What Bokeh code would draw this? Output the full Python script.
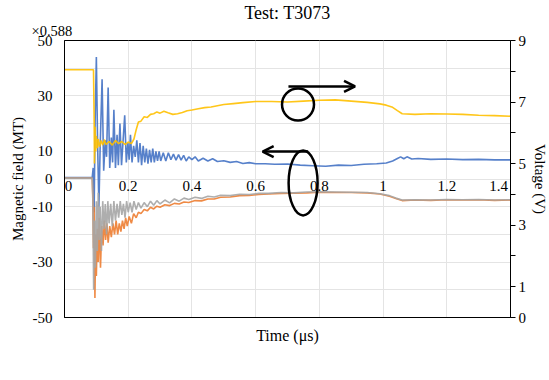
from bokeh.plotting import figure
from bokeh.models import (Range1d, LinearAxis, FixedTicker, Legend, LegendItem, Title,
                          LabelSet, Arrow, OpenHead, ColumnDataSource)
from bokeh.embed import file_html
from bokeh.resources import INLINE

FONT = "Liberation Serif"

# ---------------- data ----------------
ch1_t = [0, 0.087, 0.090, 0.093, 0.096, 0.100, 0.104, 0.108, 0.112, 0.118, 0.123, 0.128,
         0.132, 0.137, 0.142, 0.147, 0.151, 0.155, 0.160, 0.165, 0.169, 0.174, 0.179,
         0.184, 0.189, 0.194, 0.199, 0.203, 0.207, 0.212, 0.217, 0.222, 0.227, 0.232,
         0.237, 0.242, 0.247, 0.252, 0.257, 0.262, 0.267, 0.272, 0.277, 0.282, 0.287,
         0.292, 0.297, 0.302, 0.31, 0.318, 0.326, 0.334, 0.342, 0.35, 0.358, 0.366,
         0.374, 0.382, 0.39, 0.40, 0.41, 0.42, 0.435, 0.45, 0.465, 0.48, 0.50, 0.52,
         0.54, 0.56, 0.58, 0.60, 0.63, 0.66, 0.70, 0.74, 0.78, 0.82, 0.86, 0.90, 0.94,
         0.98, 1.01, 1.03, 1.045, 1.055, 1.065, 1.075, 1.09, 1.11, 1.15, 1.2, 1.25,
         1.3, 1.35, 1.40]
ch1_v = [0.5, 0.5, 4, -12, 20, 44, 12, -10, 12, 36, 3, 14,
         8, 33, 4, 15, 6, 25, 4, 16, 5, 20, 5,
         14, 23, 6, 13, 7, 16, 6, 12, 8, 14, 6,
         13, 5, 12, 6, 11, 5.5, 10.5, 6, 11, 6, 10,
         6.5, 10, 6.5, 9.5, 6.5, 9.5, 7, 9, 6.8, 8.8, 6.8,
         8.5, 6.5, 8, 7, 8, 6.5, 7.5, 6.5, 7.3, 6.3, 6.6, 6,
         6.3, 5.6, 5.9, 5.5, 5.5, 5.3, 5.4, 5.0, 4.8, 4.6, 5.0, 4.9, 5.3,
         5.5, 5.8, 6.5, 7.4, 8.0, 7.3, 8.0, 7.2, 7.4, 7.1, 7.2, 7.0,
         7.1, 6.9, 6.9]

ch2_t = [0, 0.087, 0.089, 0.091, 0.093, 0.0955, 0.098, 0.100, 0.103, 0.106, 0.109, 0.113,
         0.117, 0.121, 0.125, 0.129, 0.133, 0.137, 0.142, 0.147, 0.152, 0.157, 0.162,
         0.167, 0.172, 0.177, 0.182, 0.187, 0.192, 0.197, 0.203, 0.21, 0.217, 0.225,
         0.232, 0.24, 0.25, 0.26, 0.27, 0.28, 0.29, 0.30, 0.315, 0.33, 0.345, 0.36,
         0.375, 0.39, 0.41, 0.43, 0.45, 0.47, 0.49, 0.52, 0.55, 0.58, 0.61, 0.64,
         0.68, 0.72, 0.76, 0.80, 0.85, 0.90, 0.95, 0.99, 1.02, 1.04, 1.06, 1.10,
         1.15, 1.20, 1.25, 1.30, 1.35, 1.40]
ch2_v = [0.3, 0.3, -8, -25, -10, -43, -20, -35, -18, -30, -14, -32,
         -17, -24, -15, -22, -16, -23, -17, -21, -16, -20, -15,
         -20, -16, -19, -15, -18, -14, -17, -13.5, -16, -12.5, -14,
         -12, -12.5, -11, -11.5, -10.2, -10.8, -9.8, -10.2, -9.3, -9.6, -8.8, -9,
         -8.3, -8.5, -7.8, -7.9, -7.2, -7.2, -6.6, -6.5, -6.0, -5.9, -5.6, -5.4,
         -5.2, -5.1, -5.0, -4.8, -4.9, -4.9, -5.0, -5.4, -6.2, -7.0, -7.8, -7.6,
         -7.7, -7.5, -7.6, -7.5, -7.7, -7.6]

ch3_t = [0, 0.087, 0.089, 0.0915, 0.094, 0.097, 0.100, 0.103, 0.106, 0.109, 0.112, 0.116,
         0.120, 0.124, 0.128, 0.132, 0.136, 0.140, 0.145, 0.150, 0.155, 0.160, 0.165,
         0.170, 0.175, 0.180, 0.185, 0.190, 0.195, 0.200, 0.206, 0.212, 0.218, 0.225,
         0.232, 0.24, 0.25, 0.26, 0.27, 0.28, 0.29, 0.30, 0.315, 0.33, 0.345, 0.36,
         0.375, 0.39, 0.41, 0.43, 0.45, 0.47, 0.49, 0.52, 0.55, 0.58, 0.61, 0.64,
         0.68, 0.72, 0.76, 0.80, 0.85, 0.90, 0.95, 0.99, 1.02, 1.04, 1.06, 1.10,
         1.15, 1.20, 1.25, 1.30, 1.35, 1.40]
ch3_v = [0.3, 0.3, -6, -40, -15, -32, -8, -26, -5, -22, -10, -26,
         -8, -18, -9, -20, -8, -16, -9, -17, -8, -15, -9,
         -14, -8, -13, -9, -14, -8, -12, -8.5, -12, -8, -11,
         -8.5, -10.5, -8.5, -10, -8, -9.5, -7.8, -9, -7.6, -8.6, -7.2, -8,
         -6.9, -7.4, -6.6, -7, -6.2, -6.5, -5.9, -6.0, -5.5, -5.6, -5.2, -5.2,
         -4.9, -5.0, -4.7, -4.6, -4.7, -4.8, -4.9, -5.3, -6.0, -6.9, -7.6, -7.5,
         -7.6, -7.4, -7.5, -7.4, -7.6, -7.5]

ch4_t = [0, 0.091, 0.093, 0.094, 0.096, 0.098, 0.100, 0.103, 0.106, 0.110, 0.115, 0.120,
         0.125, 0.130, 0.140, 0.150, 0.160, 0.170, 0.180, 0.190, 0.200, 0.210, 0.218,
         0.225, 0.232, 0.240, 0.250, 0.260, 0.270, 0.280, 0.290, 0.300, 0.312, 0.325,
         0.340, 0.355, 0.370, 0.385, 0.400, 0.420, 0.440, 0.460, 0.480, 0.500, 0.530,
         0.560, 0.600, 0.650, 0.700, 0.750, 0.800, 0.850, 0.900, 0.950, 0.990, 1.010,
         1.030, 1.045, 1.060, 1.100, 1.150, 1.200, 1.250, 1.300, 1.350, 1.400]
ch4_v = [8.05, 8.05, 6.5, 5.0, 6.2, 5.4, 5.9, 5.5, 5.8, 5.55, 5.75, 5.6,
         5.78, 5.62, 5.72, 5.6, 5.75, 5.65, 5.72, 5.62, 5.7, 5.65, 5.8,
         6.1, 6.35, 6.38, 6.52, 6.5, 6.6, 6.62, 6.68, 6.64, 6.7, 6.65,
         6.6, 6.62, 6.66, 6.72, 6.74, 6.78, 6.82, 6.84, 6.88, 6.92, 6.95,
         6.98, 7.02, 7.02, 7.0, 7.03, 7.06, 7.07, 7.03, 6.99, 6.94, 6.9,
         6.83, 6.72, 6.62, 6.6, 6.62, 6.61, 6.6, 6.57, 6.56, 6.54]

series_names = ["CH1", "CH2", "CH3", "CH4"]
line_colors = ["#4472C4", "#ED7D31", "#A5A5A5", "#FFC000"]
legend_colors = ["#4472C4", "#C55A11", "#7F7F7F", "#FFC000"]

title_text = "Test: T3073"
scale_text = "×0.588"

x_ticks = [0, 0.2, 0.4, 0.6, 0.8, 1, 1.2, 1.4]
x_tick_labels = ["0", "0.2", "0.4", "0.6", "0.8", "1", "1.2", "1.4"]
left_ticks = [-50, -40, -30, -20, -10, 0, 10, 20, 30, 40, 50]
left_tick_labels = ["-50", "", "-30", "", "-10", "0", "10", "", "30", "", "50"]
right_ticks = [0, 1, 2, 3, 4, 5, 6, 7, 8, 9]
right_tick_labels = ["0", "1", "", "3", "", "5", "", "7", "", "9"]

# ---------------- styling / positions ----------------
x_label_offsets = [4, 0, 0, 0, 0, 0, 0, -12]     # px nudges so end labels stay inside the frame
circ_x = [0.733, 0.749]                           # circle + arrow marks (left-axis data coords)
circ_y = [26.9, -1.4]
circ_w = [32, 29]
circ_h = [32, 65]
arrow_up = (0.703, 33.4, 0.912, 33.4)
arrow_dn = (0.765, 9.9, 0.622, 9.9)

# ---------------- figure (fixed frame) ----------------
p = figure(frame_width=446, frame_height=277, output_backend="svg", toolbar_location=None,
           x_range=Range1d(0, 1.4), y_range=Range1d(-50, 50),
           min_border_left=64, min_border_right=39, min_border_top=40, min_border_bottom=63)
p.extra_y_ranges = {"v": Range1d(0, 9)}

# outer title row: chart title
p.title.text = title_text
p.title.align = "center"
p.title.standoff = 0
p.title.text_font = FONT
p.title.text_font_size = "18px"
p.title.text_font_style = "normal"
p.title.text_color = "black"

# inner title row: scale factor above the left axis
p.add_layout(Title(text=scale_text, align="left", offset=-33, standoff=0,
                   vertical_align="top", text_font=FONT, text_font_size="14.5px",
                   text_font_style="normal", text_color="black"), "above")

p.outline_line_color = "black"
p.outline_line_alpha = 1
p.background_fill_color = "white"
p.border_fill_color = "white"

def style_axis(ax):
    ax.major_label_text_font = FONT
    ax.major_label_text_font_size = "15px"
    ax.major_label_text_color = "black"
    ax.axis_label_text_font = FONT
    ax.axis_label_text_font_size = "15px"
    ax.axis_label_text_font_style = "normal"
    ax.axis_label_text_color = "black"
    ax.minor_tick_line_color = None

# bottom axis: title only
xb = p.xaxis[0]
style_axis(xb)
xb.ticker = FixedTicker(ticks=[])
xb.axis_label = "Time (μs)"
xb.axis_label_text_font_size = "16px"
xb.axis_line_color = "black"
xb.major_tick_line_color = None
xb.major_tick_out = 0
xb.major_tick_in = 0
xb.minor_tick_out = 0
xb.major_label_text_font_size = "0px"
xb.major_label_standoff = 0
xb.axis_label_standoff = 9

ya = p.yaxis[0]
style_axis(ya)
ya.ticker = FixedTicker(ticks=left_ticks)
ya.major_label_overrides = dict(zip(left_ticks, left_tick_labels))
ya.major_tick_line_color = None
ya.major_label_standoff = 6
ya.axis_label = "Magnetic field (MT)"
ya.axis_label_standoff = 4
ya.axis_line_color = "black"

ra = LinearAxis(y_range_name="v", ticker=FixedTicker(ticks=right_ticks))
style_axis(ra)
ra.major_label_overrides = dict(zip(right_ticks, right_tick_labels))
ra.major_tick_out = 5
ra.major_tick_in = 0
ra.major_label_standoff = 3
ra.axis_label = "Voltage (V)"
ra.axis_label_standoff = 3
ra.axis_line_color = "black"
p.add_layout(ra, "right")

p.xgrid.ticker = FixedTicker(ticks=x_ticks)
p.ygrid.ticker = FixedTicker(ticks=left_ticks)
p.xgrid.grid_line_color = "#E4E4E4"
p.ygrid.grid_line_color = "#E4E4E4"

# data lines
series = [(ch1_t, ch1_v, "default"), (ch2_t, ch2_v, "default"),
          (ch3_t, ch3_v, "default"), (ch4_t, ch4_v, "v")]
for (t, v, rng), c in zip(series, line_colors):
    p.line(t, v, line_color=c, line_width=1.6, line_alpha=0.9, y_range_name=rng)

# x tick labels drawn along y = 0
xlab_src = ColumnDataSource(dict(x=x_ticks, y=[0] * len(x_ticks), text=x_tick_labels,
                                 dx=x_label_offsets))
p.add_layout(LabelSet(x="x", y="y", text="text", source=xlab_src, x_offset="dx", y_offset=-2,
                      text_align="center", text_baseline="top",
                      text_font=FONT, text_font_size="15px", text_color="black"))

# annotation circles and arrows
p.ellipse(x=circ_x, y=circ_y, width=circ_w, height=circ_h,
          width_units="screen", height_units="screen",
          fill_color=None, line_color="black", line_width=2.5)
for (x0, y0, x1, y1) in [arrow_up, arrow_dn]:
    p.add_layout(Arrow(end=OpenHead(size=11, line_width=2.5, line_color="black"),
                       x_start=x0, y_start=y0, x_end=x1, y_end=y1,
                       line_width=2.5, line_color="black"))

# legend (below the plot)
items = []
for name, c in zip(series_names, legend_colors):
    r = p.line([], [], line_color=c, line_width=5)
    items.append(LegendItem(label=name, renderers=[r]))
legend = Legend(items=items, orientation="horizontal", location="top_left",
                glyph_width=50, glyph_height=24, label_height=24, label_standoff=12,
                spacing=17, padding=0, margin=1, border_line_color=None,
                background_fill_alpha=0,
                label_text_font=FONT, label_text_font_size="15px", label_text_color="black")
p.add_layout(legend, "below")

open("out.html", "w").write(file_html(p, INLINE))
